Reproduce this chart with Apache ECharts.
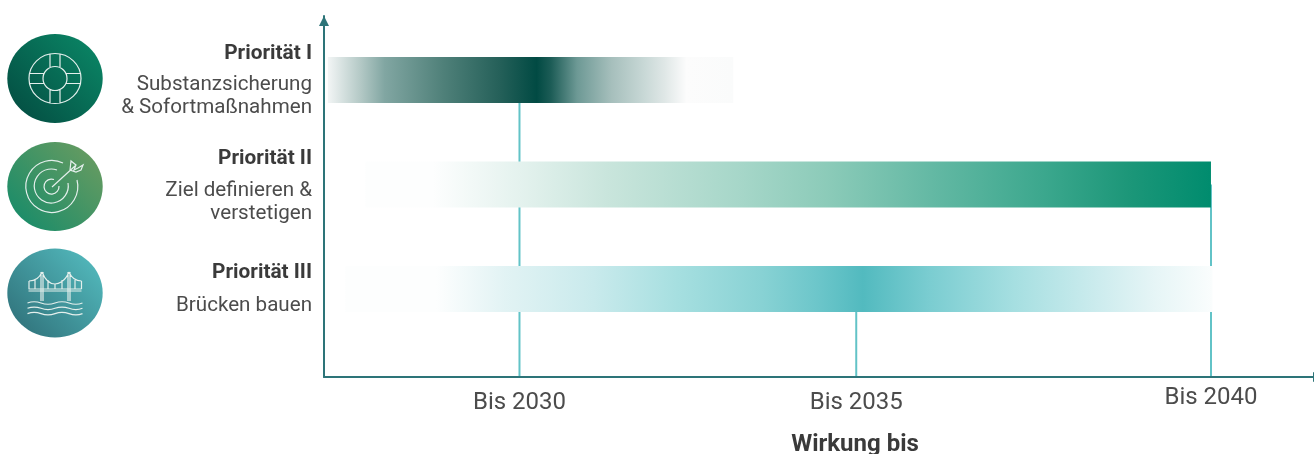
<!DOCTYPE html>
<html lang="de">
<head>
<meta charset="utf-8">
<title>Wirkung bis</title>
<style>
  html, body { margin: 0; padding: 0; background: #fff; }
  #chart { width: 1314px; height: 454px; }
</style>
<script src="https://cdn.jsdelivr.net/npm/echarts@6/dist/echarts.min.js"></script>
</head>
<body>
<div id="chart"></div>
<script>
// data, x values in years
const rowTitles = ["Priorität I", "Priorität II", "Priorität III"];
const rowTexts = ["Substanzsicherung\n& Sofortmaßnahmen", "Ziel definieren &\nverstetigen", "Brücken bauen"];
const barStart = [2027.23, 2027.77, 2027.48];
const barEnd = [2033.09, 2040, 2040.02];
const tickYears = [2030, 2034.87, 2040];
const tickLabels = ["Bis 2030", "Bis 2035", "Bis 2040"];
const tickFromRow = [0, 2, 1];

// gradient stops per bar: [offset, colour]
const barStops = [
  [[0, "#f2f5f5"], [0.08, "#b4c9c6"], [0.14, "#81a6a2"], [0.285, "#4f8079"], [0.42, "#26615a"], [0.515, "#014a43"],
   [0.55, "#1c5c56"], [0.615, "#6d9995"], [0.7, "#a6bfbc"], [0.78, "#c8d8d6"], [0.83, "#dfe7e6"], [0.87, "#f4f6f6"], [0.885, "#fcfcfc"], [1, "#fafbfb"]],
  [[0, "#fdfefe"], [0.08, "#fdfefe"], [0.183, "#e4f2ee"], [0.286, "#c9e5dc"], [0.448, "#a5d6c8"], [0.545, "#8ccbb9"],
   [0.675, "#62b8a3"], [0.804, "#3ba78d"], [0.9, "#1d9779"], [1, "#008c6e"]],
  [[0, "#fdfefe"], [0.105, "#fdfefe"], [0.183, "#e2f3f4"], [0.286, "#c9eaec"], [0.383, "#a6dfe0"], [0.48, "#88d2d4"],
   [0.545, "#6cc6ca"], [0.597, "#52babf"], [0.675, "#7bcdd1"], [0.772, "#a6dfe1"], [0.87, "#cdecee"], [0.934, "#e6f5f6"], [1, "#fafdfd"]]
];

const chart = echarts.init(document.getElementById("chart"));

const axisColor = "#2d7478";
const BAR_H = 46;

function gradient(x0, y0, x1, y1, a, b) {
  return new echarts.graphic.LinearGradient(x0, y0, x1, y1, [{ offset: 0, color: a }, { offset: 1, color: b }]);
}

// left column: circle + line icon
const iconLine = { stroke: "#e4efec", lineWidth: 1.2, fill: null };

const lifebuoy = "M29 78.5a26 25 0 1 0 52 0a26 25 0 1 0 -52 0Z M43 78.5a12 12 0 1 0 24 0a12 12 0 1 0 -24 0Z" +
  "M50 54V67 M60 54V67 M50 90V103 M60 90V103 M30 73.5H43.5 M30 83.5H43.5 M66.5 73.5H80 M66.5 83.5H80";
const target = "M77 180a26 26 0 1 1 -14 -17 M68 183a17 17 0 1 1 -11 -13 M59 186a7.5 7.5 0 1 1 -5 -6.5" +
  "M52 187L75 166 M70 170L71 161L76 165L74 170L78 168L83 165L81 170L76 172L70 170Z M76 165L75 166";
const bridge = "M28.5 289H81.5 M28.5 291H81.5 M41 301V272 M43 301V272 M68 301V272 M70 301V272" +
  "M29 281C34 281 39 279 42 272 M42 272C46 282 52 284 55 284C58 284 65 282 69 272 M69 272C72 279 77 281 81.5 281" +
  "M29 281V289 M35 280V289 M48 280V289 M55 284V289 M62 280V289 M75 280V289 M81.5 281V289" +
  "M27.5 303Q34 300.5 41 303T55 303T69 303T82.5 303 M27.5 308.3Q34 305.8 41 308.3T55 308.3T69 308.3T82.5 308.3" +
  "M27.5 313.6Q34 311.1 41 313.6T55 313.6T69 313.6T82.5 313.6";

echarts.graphic.registerShape("lifebuoy", echarts.graphic.extendPath(lifebuoy, {}));
echarts.graphic.registerShape("target", echarts.graphic.extendPath(target, {}));
echarts.graphic.registerShape("bridge", echarts.graphic.extendPath(bridge, {}));

const iconCy = [78.5, 186.5, 293];
const iconFill = [
  gradient(0, 1, 1, 0, "#03493f", "#0b8a68"),
  gradient(0, 1, 1, 0, "#108a6a", "#709d60"),
  gradient(0, 1, 1, 0, "#2d6c75", "#56c0c3")
];
const iconType = ["lifebuoy", "target", "bridge"];
const titleY = [53.5, 158.5, 272.5];
const textY = [96.5, 202, 305.5];

const graphic = [];
rowTitles.forEach((t, i) => {
  graphic.push({ type: "ellipse", shape: { cx: 55, cy: iconCy[i], rx: 47.7, ry: 44.5 }, style: { fill: iconFill[i] } });
  graphic.push({ type: iconType[i], style: iconLine });
  graphic.push({
    type: "text", x: 312, y: titleY[i],
    style: { text: t, align: "right", verticalAlign: "middle", fontFamily: "Roboto", fontWeight: 700, fontSize: 20.8, fill: "#3a3a3a" }
  });
  graphic.push({
    type: "text", x: 312, y: textY[i],
    style: { text: rowTexts[i], align: "right", verticalAlign: "middle", fontFamily: "Roboto", fontSize: 20.6, lineHeight: 23, fill: "#4c4c4c" }
  });
});
graphic.push({
  type: "text", x: 855, y: 445,
  style: { text: "Wirkung bis", align: "center", verticalAlign: "middle", fontFamily: "Roboto", fontWeight: 700, fontSize: 24, fill: "#3a3a3a" }
});

chart.setOption({
  animation: false,
  backgroundColor: "#fff",
  grid: { left: 324, width: 994.5, top: 16, bottom: 77, outerBoundsMode: "none" },
  xAxis: {
    type: "value",
    min: 2027.173,
    max: 2041.555,
    splitLine: { show: false },
    axisTick: { show: false },
    axisLine: { show: true, onZero: false, lineStyle: { color: axisColor, width: 2 }, symbol: ["none", "triangle"], symbolSize: [10, 11] },
    axisLabel: {
      customValues: tickYears,
      margin: 9,
      formatter: (v) => {
        const label = tickLabels[tickYears.indexOf(v)];
        return v === 2040 ? "{up|" + label + "}" : "{low|" + label + "}";
      },
      rich: {
        up: { fontFamily: "Roboto", fontSize: 24, color: "#4c4c4c" },
        low: { fontFamily: "Roboto", fontSize: 24, color: "#4c4c4c", padding: [5, 0, 0, 0] }
      }
    }
  },
  yAxis: {
    type: "value",
    inverse: true,
    min: -0.612,
    max: 2.842,
    splitLine: { show: false },
    axisTick: { show: false },
    axisLabel: { show: false },
    axisLine: { show: true, onZero: false, lineStyle: { color: axisColor, width: 2 }, symbol: ["none", "triangle"], symbolSize: [10, 10], symbolOffset: [0, -5] }
  },
  graphic: graphic,
  series: [
    {
      type: "custom",
      z: 1,
      clip: false,
      data: tickYears.map((y, i) => [y, tickFromRow[i]]),
      renderItem: (params, api) => {
        const a = api.coord([api.value(0), api.value(1)]);
        const b = api.coord([api.value(0), 2.842]);
        return {
          type: "line",
          shape: { x1: a[0], y1: a[1], x2: b[0], y2: b[1] - 1 },
          style: { stroke: "#62c3c7", lineWidth: 2 }
        };
      }
    },
    {
      type: "custom",
      z: 2,
      clip: false,
      data: barStart.map((s, i) => [s, barEnd[i], i]),
      renderItem: (params, api) => {
        const i = api.value(2);
        const a = api.coord([api.value(0), i]);
        const b = api.coord([api.value(1), i]);
        return {
          type: "rect",
          shape: { x: a[0], y: a[1] - BAR_H / 2, width: b[0] - a[0], height: BAR_H },
          style: {
            fill: new echarts.graphic.LinearGradient(0, 0, 1, 0, barStops[i].map((s) => ({ offset: s[0], color: s[1] })))
          }
        };
      }
    }
  ]
});
</script>
</body>
</html>
